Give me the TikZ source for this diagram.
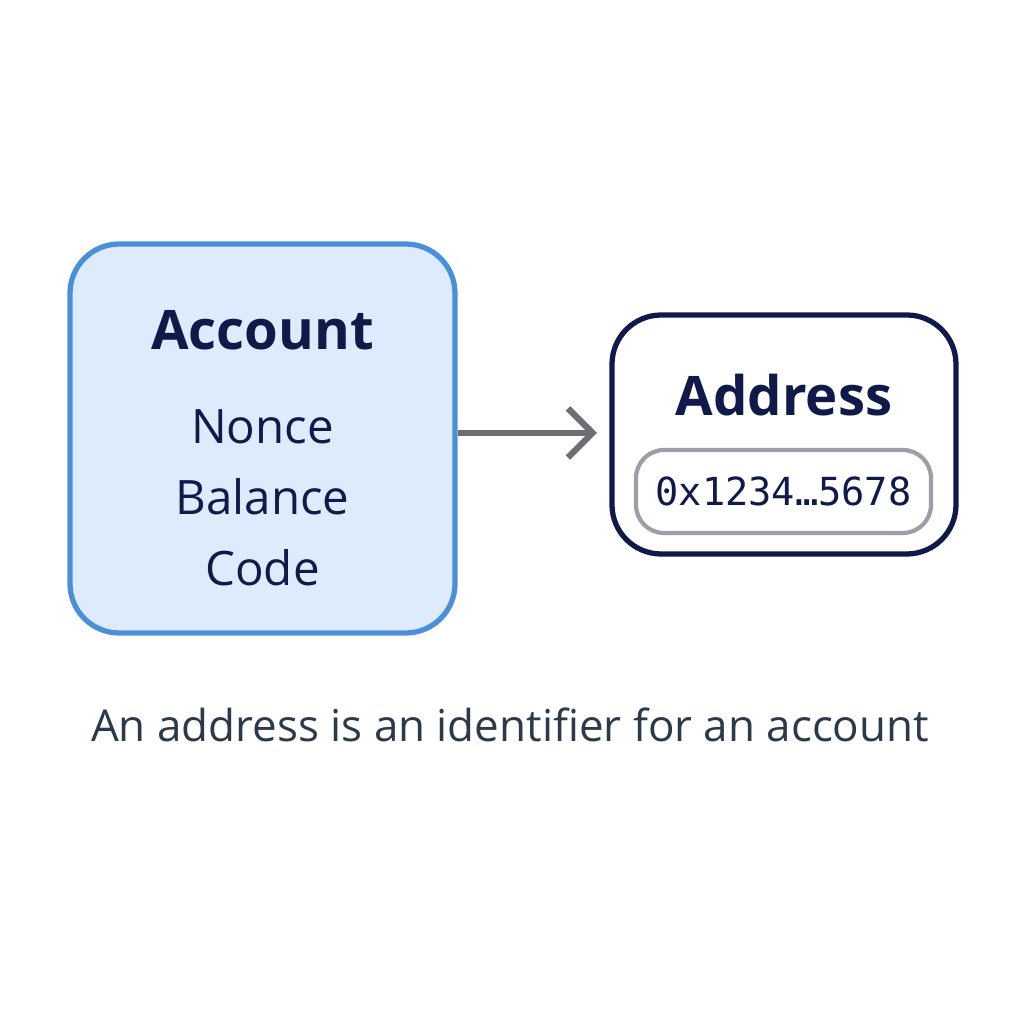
\documentclass[tikz,border=0pt]{standalone}
\usepackage{fontspec}
\setmainfont{Open Sans}
\setmonofont{DejaVu Sans Mono}
\usetikzlibrary{arrows.meta}
\definecolor{navy}{HTML}{0F1A4A}
\definecolor{acctfill}{HTML}{DDEBFC}
\definecolor{acctline}{HTML}{4A90D9}
\definecolor{arrowgray}{HTML}{6B6E73}
\definecolor{chipline}{HTML}{9A9FA8}
\definecolor{captext}{HTML}{2B3A4A}

\begin{document}
\begin{tikzpicture}[
    box/.style={rounded corners=14pt,line width=1.5pt},
    title/.style={text=navy,font=\fontsize{15.5}{18}\selectfont\bfseries},
    field/.style={text=navy,font=\fontsize{13.5}{16}\selectfont}
  ]
    \useasboundingbox (0,0) rectangle (10.24,10.24);

    % Account box
    \node[box,draw=acctline,fill=acctfill,minimum width=3.85cm,minimum height=3.89cm] (account) at (2.625,5.855) {};
    \node[title] (accttitle) at (2.625,6.94) {Account};
    \node[field] (nonce) at (2.625,5.97) {Nonce};
    \node[field] (balance) at (2.625,5.27) {Balance};
    \node[field] (code) at (2.625,4.56) {Code};

    % Address box
    \node[box,draw=navy,fill=white,minimum width=3.44cm,minimum height=2.39cm] (address) at (7.84,5.895) {};
    \node[title] (addrtitle) at (7.84,6.29) {Address};
    \node[rounded corners=8pt,draw=chipline,line width=1.2pt,minimum width=2.95cm,minimum height=0.83cm,
          text=navy,font=\ttfamily\fontsize{11}{13}\selectfont] (hex) at (7.835,5.325) {0x1234…5678};

    \coordinate (tip) at (5.97,5.91);
    \draw[arrowgray,line width=1.8pt,-{Straight Barb[length=7pt,width=14pt]}] (account.east |- tip) -- (tip);

    \node[text=captext,font=\fontsize{12.5}{15}\selectfont] (caption) at (5.1,2.99) {An address is an identifier for an account};
\end{tikzpicture}
\end{document}
